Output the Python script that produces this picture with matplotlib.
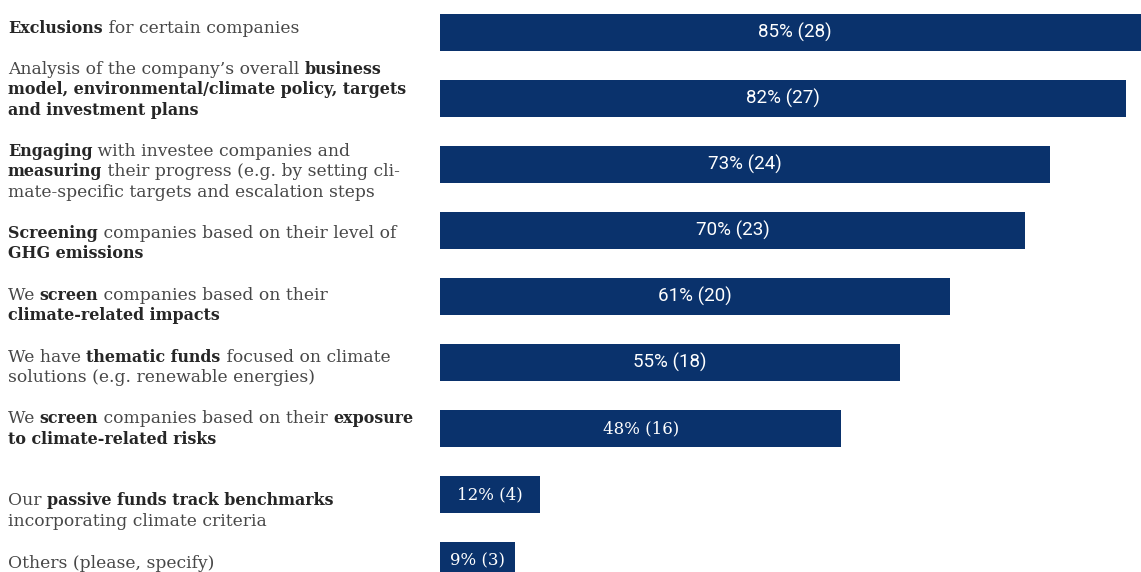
import re
import matplotlib
matplotlib.use("Agg")
import matplotlib.pyplot as plt
import matplotlib.transforms as mtransforms

# survey answers (share of respondents, count in brackets)
labels = [
    "**Exclusions** for certain companies",
    "Analysis of the company\u2019s overall **business**\n**model, environmental/climate policy, targets**\n**and investment plans**",
    "**Engaging** with investee companies and\n**measuring** their progress (e.g. by setting cli-\nmate-specific targets and escalation steps",
    "**Screening** companies based on their level of\n**GHG emissions**",
    "We **screen** companies based on their\n**climate-related impacts**",
    "We have **thematic funds** focused on climate\nsolutions (e.g. renewable energies)",
    "We **screen** companies based on their **exposure**\n**to climate-related risks**",
    "Our **passive funds track benchmarks**\nincorporating climate criteria",
    "Others (please, specify)",
]
pct = [85, 82, 73, 70, 61, 55, 48, 12, 9]
counts = [28, 27, 24, 23, 20, 18, 16, 4, 3]

W, H = 1141, 572
BAR = "#0a326c"
TXT = "#474747"
TXT_BOLD = "#262626"
SERIF = "DejaVu Serif"

fig = plt.figure(figsize=(W / 100, H / 100), dpi=100)
fig.patch.set_facecolor("white")

# bars live in an axes starting at x=440px, row pitch 66px
ax = fig.add_axes([440 / W, 0, 1 - 440 / W, 1])
px_per_pct = 8.36
ax.set_xlim(0, (W - 440) / px_per_pct)
ax.set_ylim((H - 32.5) / 66, -32.5 / 66)
ax.axis("off")

ypos = list(range(len(pct)))
ax.barh(ypos, pct, height=37 / 66, color=BAR, left=0)

for i, (p, c) in enumerate(zip(pct, counts)):
    fam = "Roboto" if i < 6 else SERIF
    fs = 13.5 if i < 6 else 12
    ax.text(p / 2, i, f"{p}% ({c})", ha="center", va="center",
            color="white", fontsize=fs, family=fam, clip_on=False)

# rich text labels on the left, drawn piece by piece
renderer = fig.canvas.get_renderer()
ident = mtransforms.IdentityTransform()
sizes = {"normal": 12.3, "bold": 11.4}
line_gap = 20.5
first_baseline = [33, 74, 156, 238, 300, 362, 423, 505, 568]


def raw_width(s, weight):
    t = fig.text(0, 0, s, transform=ident, fontsize=sizes[weight],
                 family=SERIF, weight=weight)
    w = t.get_window_extent(renderer).width
    t.remove()
    return w


def advance(s, weight):
    # bracket the string so spaces and side bearings count
    return raw_width("|" + s + "|", weight) - raw_width("||", weight)


def draw_line(x, y_img, line):
    y = H - y_img
    for part in re.split(r"(\*\*.*?\*\*)", line):
        if not part:
            continue
        bold = part.startswith("**")
        s = part[2:-2] if bold else part
        wt = "bold" if bold else "normal"
        fig.text(x, y, s, transform=ident, fontsize=sizes[wt],
                 family=SERIF, weight=wt,
                 color=TXT_BOLD if bold else TXT,
                 ha="left", va="baseline")
        x += advance(s, wt)


for lab, yb in zip(labels, first_baseline):
    for k, line in enumerate(lab.split("\n")):
        draw_line(8, yb + k * line_gap, line)

fig.savefig("out.png", dpi=100, facecolor="white")
